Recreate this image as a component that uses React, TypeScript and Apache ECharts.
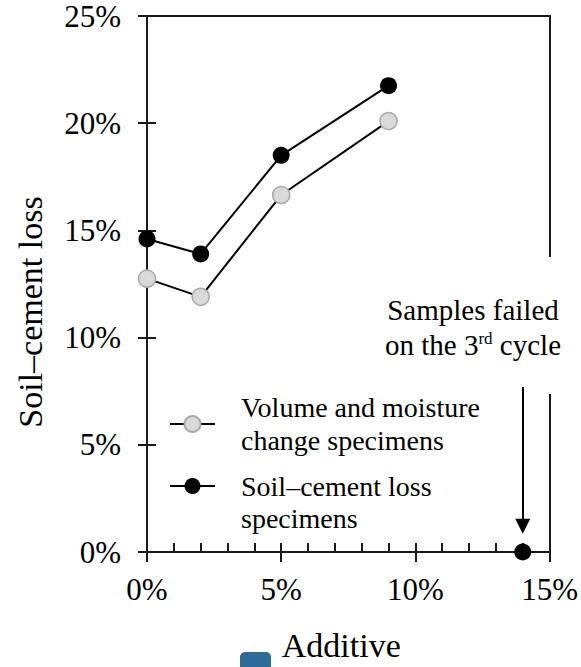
import React, { useEffect, useRef } from "react";
import * as echarts from "echarts";

// Additive content (%) for each mix
const additive = [0, 2, 5, 9];
// Volume and moisture change specimens – soil–cement loss (%)
const volumeMoistureLoss = [12.75, 11.9, 16.65, 20.1];
// Soil–cement loss specimens – soil–cement loss (%)
const soilCementLoss = [14.6, 13.9, 18.5, 21.75];
// Samples that failed on the 3rd cycle
const failedAdditive = [14];
const failedLoss = [0];
// Axis ranges / tick spacing
const xRange = [0, 15];
const xStep = 5;
const yRange = [0, 25];
const yStep = 5;
// Arrow pointing at the failed samples (start and end, in data units)
const arrowFrom = [14, 7.7];
const arrowTo = [14, 1.2];

const seriesNames = [
  "Volume and moisture\nchange specimens",
  "Soil–cement loss\nspecimens",
];

const FONT = "Liberation Serif, Tinos, Times New Roman, serif";

export default function App() {
  const ref = useRef<HTMLDivElement>(null);

  useEffect(() => {
    if (!ref.current) return;
    const chart = echarts.init(ref.current, undefined, { renderer: "svg" });
    let disposed = false;

    const G = { left: 147, right: 31, top: 16, bottom: 105 };
    const W = 581;
    const H = 667;
    const xr = W - G.right;
    const yb = H - G.bottom;

    const axisColor = "#1a1a1a";

    const option = {
      animation: false,
      grid: { left: G.left, right: G.right, top: G.top, bottom: G.bottom, containLabel: false },
      xAxis: [
        {
          type: "value",
          min: xRange[0],
          max: xRange[1],
          interval: xStep,
          position: "bottom",
          axisLine: { show: true, onZero: false, lineStyle: { color: axisColor, width: 2 } },
          axisTick: { show: true, inside: false, length: 10, lineStyle: { color: axisColor, width: 2 } },
          axisLabel: {
            formatter: "{value}%",
            fontFamily: FONT,
            fontSize: 31,
            color: "#000",
            margin: 22,
          },
          splitLine: { show: false },
          name: "Additive",
          nameLocation: "middle",
          nameGap: 76,
          nameTextStyle: { fontFamily: FONT, fontSize: 34, color: "#000", padding: [0, 14, 0, 0] },
        },
        {
          type: "value",
          min: xRange[0],
          max: xRange[1],
          interval: xStep,
          position: "bottom",
          axisLine: { show: false, onZero: false },
          axisTick: { show: true, inside: true, length: 9, lineStyle: { color: axisColor, width: 2 } },
          minorTick: { show: true, splitNumber: 5, length: 9, lineStyle: { color: axisColor, width: 2 } },
          axisLabel: { show: false },
          splitLine: { show: false },
        },
      ],
      yAxis: [
        {
          type: "value",
          min: yRange[0],
          max: yRange[1],
          interval: yStep,
          position: "left",
          axisLine: { show: true, onZero: false, lineStyle: { color: axisColor, width: 2 } },
          axisTick: { show: true, inside: false, length: 9, lineStyle: { color: axisColor, width: 2 } },
          axisLabel: {
            formatter: "{value}%",
            fontFamily: FONT,
            fontSize: 31,
            color: "#000",
            margin: 26,
          },
          splitLine: { show: false },
          name: "Soil–cement loss",
          nameLocation: "middle",
          nameGap: 100,
          nameRotate: 90,
          nameTextStyle: { fontFamily: FONT, fontSize: 34, color: "#000", padding: [0, 56, 0, 0] },
        },
        {
          type: "value",
          min: yRange[0],
          max: yRange[1],
          interval: yStep,
          position: "left",
          axisLine: { show: false, onZero: false },
          axisTick: { show: true, inside: true, length: 9, lineStyle: { color: axisColor, width: 2 } },
          axisLabel: { show: false },
          splitLine: { show: false },
        },
      ],
      legend: [
        {
          data: [seriesNames[0]],
          orient: "vertical",
          left: 164,
          top: 386,
          itemWidth: 45,
          itemHeight: 20,
          selectedMode: false,
          textStyle: {
            fontFamily: FONT,
            fontSize: 28,
            lineHeight: 33,
            color: "#000",
            padding: [0, 0, 0, 21],
          },
        },
        {
          data: [seriesNames[1]],
          orient: "vertical",
          left: 164,
          top: 433,
          itemWidth: 45,
          itemHeight: 20,
          selectedMode: false,
          formatter: (name: string) => "\n" + name,
          textStyle: {
            fontFamily: FONT,
            fontSize: 28,
            lineHeight: 32,
            color: "#000",
            padding: [0, 0, 0, 21],
          },
        },
      ],
      series: [
        {
          name: seriesNames[0],
          type: "line",
          xAxisIndex: 0,
          yAxisIndex: 0,
          data: additive.map((x, i) => [x, volumeMoistureLoss[i]]),
          symbol: "circle",
          symbolSize: 17,
          itemStyle: { color: "#d9d9d9", borderColor: "#a9a9a9", borderWidth: 1.5 },
          lineStyle: { color: "#000", width: 2 },
          z: 3,
        },
        {
          name: seriesNames[1],
          type: "line",
          xAxisIndex: 0,
          yAxisIndex: 0,
          data: additive.map((x, i) => [x, soilCementLoss[i]]),
          symbol: "circle",
          symbolSize: 17,
          itemStyle: { color: "#000", borderColor: "#000", borderWidth: 0 },
          lineStyle: { color: "#000", width: 2 },
          z: 4,
        },
        {
          name: "Failed samples",
          type: "scatter",
          xAxisIndex: 0,
          yAxisIndex: 0,
          data: failedAdditive.map((x, i) => [x, failedLoss[i]]),
          symbol: "circle",
          symbolSize: 17,
          itemStyle: { color: "#000", opacity: 1 },
          z: 5,
          markLine: {
            silent: true,
            symbol: ["none", "triangle"],
            symbolSize: [15, 15],
            label: { show: false },
            lineStyle: { color: "#000", width: 2, type: "solid", opacity: 1 },
            data: [[{ coord: arrowFrom }, { coord: arrowTo }]],
          },
        },
      ],
      graphic: [
        {
          type: "line",
          shape: { x1: G.left, y1: G.top, x2: xr + 1, y2: G.top },
          style: { stroke: axisColor, lineWidth: 2 },
          silent: true,
        },
        {
          type: "line",
          shape: { x1: xr, y1: G.top, x2: xr, y2: 257 },
          style: { stroke: axisColor, lineWidth: 2 },
          silent: true,
        },
        {
          type: "line",
          shape: { x1: xr, y1: 394, x2: xr, y2: yb },
          style: { stroke: axisColor, lineWidth: 2 },
          silent: true,
        },
        {
          type: "text",
          x: 473,
          y: 295,
          style: {
            text: "Samples failed",
            fontFamily: FONT,
            fontSize: 29,
            fill: "#000",
            align: "center",
            verticalAlign: "top",
          },
          silent: true,
        },
        {
          type: "text",
          x: 473,
          y: 330,
          style: {
            text: "on the 3{sup|rd} cycle",
            fontFamily: FONT,
            fontSize: 29,
            fill: "#000",
            align: "center",
            verticalAlign: "top",
            rich: {
              sup: { fontFamily: FONT, fontSize: 17, verticalAlign: "top", fill: "#000" },
            },
          },
          silent: true,
        },
        {
          type: "rect",
          shape: { x: 240, y: 652, width: 31, height: 22, r: 5 },
          style: { fill: "#2f6b97" },
          silent: true,
        },
      ],
    };

    chart.setOption(option as any);

    // Re-draw once fonts are ready so texts pick up the serif face.
    const fonts: any = (document as any).fonts;
    if (fonts && fonts.load) {
      Promise.all(
        [17, 28, 29, 31, 34].map((s) => fonts.load(`${s}px "Liberation Serif"`).catch(() => null))
      )
        .then(() => fonts.ready)
        .then(() => {
          if (disposed) return;
          chart.clear();
          chart.setOption(option as any);
        })
        .catch(() => null);
    }

    return () => {
      disposed = true;
      chart.dispose();
    };
  }, []);

  return (
    <div
      ref={ref}
      style={{ position: "fixed", left: 0, top: 0, width: 581, height: 667, background: "#fff" }}
    />
  );
}
